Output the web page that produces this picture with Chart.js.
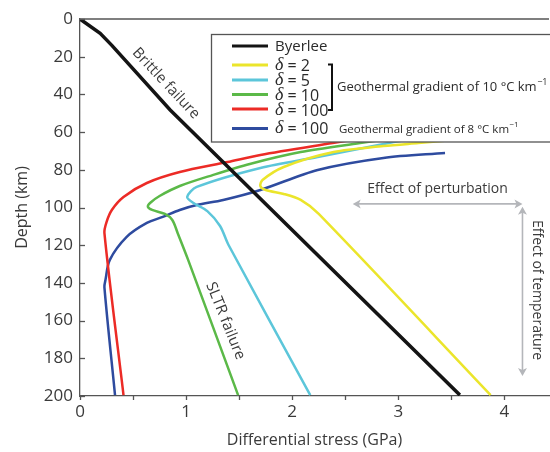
<!DOCTYPE html>
<html>
<head>
<meta charset="utf-8">
<script src="https://cdn.jsdelivr.net/npm/chart.js@4.4.1/dist/chart.umd.min.js"></script>
<style>
  html, body { margin: 0; padding: 0; background: #fff; }
  #chart { display: block; }
</style>
</head>
<body>
<canvas id="chart" width="550" height="452"></canvas>
<script>
// curves: stress in GPa, depth in km
var byerleeStress = [0, 0.19, 0.30, 0.85, 3.58];
var byerleeDepth  = [0, 7.6, 14.0, 48.3, 199.5];

var d2Stress = [3.9, 3.19, 2.86, 2.39, 1.92, 1.72, 1.70, 1.75, 1.92, 2.08, 2.25, 3.87];
var d2Depth  = [62.4, 65.8, 67.4, 70.6, 78.5, 85.4, 88.6, 90.7, 92.8, 96.0, 103.4, 199.5];

var d5Stress = [3.3, 2.91, 2.24, 1.70, 1.10, 1.01, 1.07, 1.20, 1.32, 1.40, 2.17];
var d5Depth  = [62, 65.8, 73.2, 79.0, 89.1, 94.4, 97.6, 101.9, 109.8, 119.9, 199.5];

var d10Stress = [3.1, 2.64, 2.08, 1.60, 1.25, 0.94, 0.75, 0.66, 0.64, 0.68, 0.80, 0.87, 0.92, 1.02, 1.49];
var d10Depth  = [62, 65.8, 70.6, 76.9, 82.8, 88.6, 93.9, 97.6, 99.7, 101.3, 103.4, 106.6, 113.5, 127.9, 199.5];

var d100Stress = [2.8, 2.38, 1.70, 1.39, 0.94, 0.63, 0.41, 0.30, 0.25, 0.23, 0.41];
var d100Depth  = [62, 65.8, 72.1, 75.9, 81.2, 87.0, 94.4, 101.3, 107.7, 113.5, 199.5];

var d100g8Stress = [3.44, 2.86, 2.24, 1.70, 1.35, 1.10, 0.94, 0.78, 0.63, 0.44, 0.28, 0.24, 0.23, 0.33];
var d100g8Depth  = [71.1, 73.7, 80.1, 90.7, 96.0, 98.7, 101.3, 105.0, 108.2, 115.6, 127.9, 138.5, 142.2, 199.5];

var stressTicks = [0, 1, 2, 3, 4];
var stressMinorTicks = [0.5, 1.5, 2.5, 3.5];
var depthTicks = [0, 20, 40, 60, 80, 100, 120, 140, 160, 180, 200];

var seriesNames = ['Byerlee', '2', '5', '10', '100', '100'];
var seriesColors = ['#141414', '#ebe52b', '#5cc6da', '#5bb948', '#ec2b26', '#2e4b9f'];

var axisColor = '#555';
var textColor = '#3a3a3a';
var arrowColor = '#b4b6ba';
var sans = '"Open Sans", "Noto Sans", sans-serif';

function pts(xs, ys) {
  return xs.map(function (v, i) { return { x: v, y: ys[i] }; });
}

var curves = [
  pts(byerleeStress, byerleeDepth),
  pts(d2Stress, d2Depth),
  pts(d5Stress, d5Depth),
  pts(d10Stress, d10Depth),
  pts(d100Stress, d100Depth),
  pts(d100g8Stress, d100g8Depth)
];

var datasets = curves.map(function (c, i) {
  return {
    label: seriesNames[i],
    data: c,
    showLine: true,
    borderColor: seriesColors[i],
    backgroundColor: seriesColors[i],
    borderWidth: i === 0 ? 3.5 : 2.5,
    pointRadius: 0,
    tension: i === 0 ? 0 : 0.3,
    fill: false
  };
});

function line(ctx, x1, y1, x2, y2) {
  ctx.beginPath(); ctx.moveTo(x1, y1); ctx.lineTo(x2, y2); ctx.stroke();
}

function arrowHead(ctx, x, y, ang) {
  ctx.save();
  ctx.translate(x, y);
  ctx.rotate(ang);
  ctx.beginPath();
  ctx.moveTo(0, 0);
  ctx.lineTo(-8, -4.5);
  ctx.lineTo(-6, 0);
  ctx.lineTo(-8, 4.5);
  ctx.closePath();
  ctx.fill();
  ctx.restore();
}

function rotText(ctx, txt, x, y, deg, font) {
  ctx.save();
  ctx.translate(x, y);
  ctx.rotate(deg * Math.PI / 180);
  ctx.font = font;
  ctx.textAlign = 'center';
  ctx.textBaseline = 'middle';
  ctx.fillText(txt, 0, 0);
  ctx.restore();
}

var decorations = {
  id: 'decorations',
  afterDatasetsDraw: function (chart) {
    var ctx = chart.ctx, a = chart.chartArea;
    var xs = chart.scales.x, ys = chart.scales.y;
    ctx.save();

    // frame top + tick marks
    ctx.strokeStyle = axisColor;
    ctx.lineWidth = 1.3;
    line(ctx, a.left, a.top, a.right, a.top);
    stressTicks.concat(stressMinorTicks).forEach(function (v) {
      var px = Math.round(xs.getPixelForValue(v)) + 0.5;
      line(ctx, px, a.bottom, px, a.bottom + 4);
    });
    depthTicks.forEach(function (v) {
      var py = Math.round(ys.getPixelForValue(v)) + 0.5;
      line(ctx, a.left, py, a.left + 5, py);
    });

    // labels on the curves
    ctx.fillStyle = textColor;
    rotText(ctx, 'Brittle failure', xs.getPixelForValue(0.81), ys.getPixelForValue(34.2), 47, '15px ' + sans);
    rotText(ctx, 'SLTR failure', xs.getPixelForValue(1.37), ys.getPixelForValue(160.2), 68, '15px ' + sans);

    // perturbation / temperature arrows
    var ax1 = xs.getPixelForValue(2.57), ax2 = xs.getPixelForValue(4.17);
    var ay = ys.getPixelForValue(98.1);
    var vy1 = ys.getPixelForValue(99.6), vy2 = ys.getPixelForValue(189.4);
    ctx.strokeStyle = arrowColor;
    ctx.fillStyle = arrowColor;
    ctx.lineWidth = 1.6;
    line(ctx, ax1 + 4, ay, ax2 - 4, ay);
    arrowHead(ctx, ax1, ay, Math.PI);
    arrowHead(ctx, ax2, ay, 0);
    line(ctx, ax2, vy1 + 4, ax2, vy2 - 4);
    arrowHead(ctx, ax2, vy1, -Math.PI / 2);
    arrowHead(ctx, ax2, vy2, Math.PI / 2);
    ctx.fillStyle = textColor;
    rotText(ctx, 'Effect of perturbation', xs.getPixelForValue(3.37), ys.getPixelForValue(90.2), 0, '14px ' + sans);
    rotText(ctx, 'Effect of temperature', xs.getPixelForValue(4.31), ys.getPixelForValue(143.8), 90, '14px ' + sans);

    // legend box
    ctx.fillStyle = '#fff';
    ctx.fillRect(211, 34, 345, 108);
    ctx.strokeStyle = axisColor;
    ctx.lineWidth = 1.3;
    ctx.strokeRect(211.5, 34.5, 345, 107.5);

    var lineRows = [46, 65, 80, 94.5, 109, 128.5];
    var textRows = [46.5, 66, 81, 96, 111, 129];
    ctx.textBaseline = 'middle';
    ctx.textAlign = 'left';
    seriesNames.forEach(function (name, i) {
      ctx.strokeStyle = seriesColors[i];
      ctx.lineWidth = 3;
      line(ctx, 232, lineRows[i], 268, lineRows[i]);
      ctx.fillStyle = '#2a2a2a';
      if (i === 0) {
        ctx.font = '15px ' + sans;
        ctx.fillText(name, 275, textRows[i]);
      } else {
        ctx.font = 'italic 18px "Liberation Serif", "DejaVu Serif", serif';
        ctx.fillText('\u03b4', 275, textRows[i] - 1);
        var w = ctx.measureText('\u03b4').width;
        ctx.font = '16px ' + sans;
        ctx.fillText(' = ' + name, 275 + w, textRows[i]);
      }
    });

    // bracket for the 10 °C/km group
    ctx.strokeStyle = '#111';
    ctx.lineWidth = 2;
    ctx.beginPath();
    ctx.moveTo(328, 64.5); ctx.lineTo(332, 64.5); ctx.lineTo(332, 110); ctx.lineTo(328, 110);
    ctx.stroke();

    function gradText(main, x, y, size) {
      ctx.font = size + 'px ' + sans;
      ctx.fillStyle = '#2a2a2a';
      ctx.textBaseline = 'middle';
      ctx.fillText(main, x, y);
      var w = ctx.measureText(main).width;
      ctx.font = Math.round(size * 0.7) + 'px ' + sans;
      ctx.fillText('\u22121', x + w + 0.5, y - size * 0.38);
    }
    gradText('Geothermal gradient of 10 \u00b0C km', 337, 87, 13);
    gradText('Geothermal gradient of 8 \u00b0C km', 339, 129.5, 11.5);

    ctx.restore();
  }
};

new Chart(document.getElementById('chart'), {
  type: 'scatter',
  data: { datasets: datasets },
  plugins: [decorations],
  options: {
    responsive: false,
    animation: false,
    devicePixelRatio: 1,
    layout: { padding: { top: 19, right: 1, left: 0, bottom: 0 } },
    plugins: { legend: { display: false }, tooltip: { enabled: false } },
    scales: {
      x: {
        type: 'linear',
        min: 0,
        max: 4.42,
        afterFit: function (s) { s.height = 56; s.paddingRight = 0; },
        afterBuildTicks: function (s) { s.ticks = stressTicks.map(function (v) { return { value: v }; }); },
        grid: { display: false, drawTicks: false },
        border: { display: true, color: axisColor, width: 1.3 },
        ticks: {
          padding: 6,
          color: textColor,
          font: { family: sans, size: 17 },
          maxRotation: 0,
          autoSkip: false
        },
        title: {
          display: true,
          text: 'Differential stress (GPa)',
          color: textColor,
          font: { family: sans, size: 16 },
          padding: { top: 0, bottom: 2 }
        }
      },
      y: {
        type: 'linear',
        reverse: true,
        min: 0,
        max: 200,
        afterFit: function (s) { s.width = 80; },
        afterBuildTicks: function (s) { s.ticks = depthTicks.map(function (v) { return { value: v }; }); },
        grid: { display: false, drawTicks: false },
        border: { display: true, color: axisColor, width: 1.3 },
        ticks: {
          padding: 7,
          color: textColor,
          autoSkip: false,
          font: { family: sans, size: 17 }
        },
        title: {
          display: true,
          text: 'Depth (km)',
          color: textColor,
          font: { family: sans, size: 16 },
          padding: { top: 13, bottom: 0 }
        }
      }
    }
  }
});
</script>
</body>
</html>
